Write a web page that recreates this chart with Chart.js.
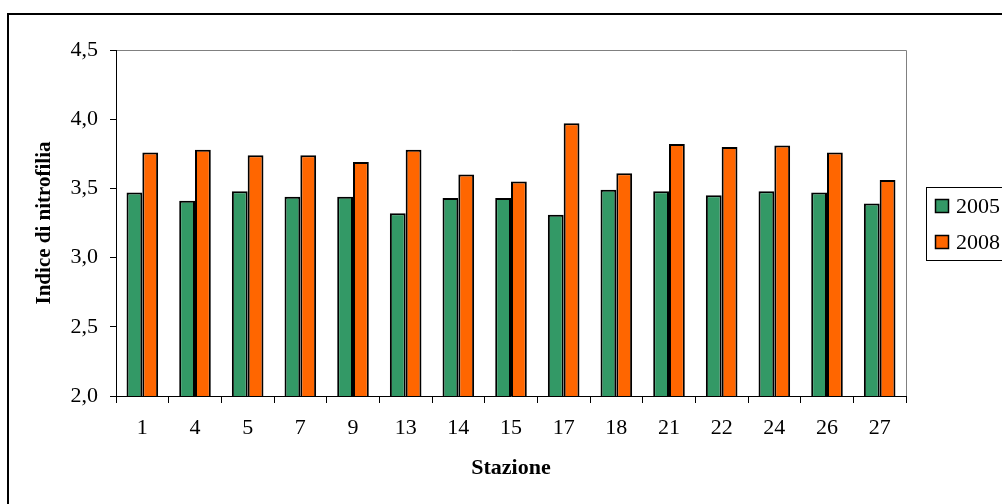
<!DOCTYPE html>
<html lang="it">
<head>
<meta charset="UTF-8">
<title>Indice di nitrofilia</title>
<script src="https://cdn.jsdelivr.net/npm/chart.js"></script>
<style>
  html, body { margin: 0; padding: 0; background: #fff; }
  #wrap { width: 1002px; height: 504px; position: relative; }
</style>
</head>
<body>
<div id="wrap"><canvas id="grafico"></canvas></div>
<script>
// dati
const stazioni = ['1', '4', '5', '7', '9', '13', '14', '15', '17', '18', '21', '22', '24', '26', '27'];
const valori2005 = [3.47, 3.41, 3.48, 3.44, 3.44, 3.32, 3.43, 3.43, 3.31, 3.49, 3.48, 3.45, 3.48, 3.47, 3.39];
const valori2008 = [3.76, 3.78, 3.74, 3.74, 3.69, 3.78, 3.60, 3.55, 3.97, 3.61, 3.82, 3.80, 3.81, 3.76, 3.56];
const etichetteY = ['2,0', '2,5', '3,0', '3,5', '4,0', '4,5'];

const FONT = '"Liberation Serif", "Times New Roman", serif';

// cornice esterna, bordo grigio dell'area del grafico e legenda
const cornice = {
  id: 'cornice',
  beforeDraw(chart) {
    const ctx = chart.ctx;
    const a = chart.chartArea;
    ctx.save();
    ctx.strokeStyle = '#000';
    ctx.lineWidth = 2;
    ctx.strokeRect(8, 14, 1100, 600);
    ctx.strokeStyle = '#808080';
    ctx.lineWidth = 1;
    ctx.beginPath();
    ctx.moveTo(a.left, a.top + 0.5);
    ctx.lineTo(a.right + 0.5, a.top + 0.5);
    ctx.lineTo(a.right + 0.5, a.bottom);
    ctx.stroke();
    ctx.restore();
  },
  afterDraw(chart) {
    const ctx = chart.ctx;
    ctx.save();
    ctx.strokeStyle = '#000';
    ctx.lineWidth = 1;
    ctx.fillStyle = '#fff';
    ctx.fillRect(926.5, 187.5, 100, 73);
    ctx.strokeRect(926.5, 187.5, 100, 73);
    ctx.font = '22px ' + FONT;
    ctx.textBaseline = 'middle';
    chart.data.datasets.forEach((ds, i) => {
      const y = 206 + i * 36;
      ctx.fillStyle = ds.backgroundColor;
      ctx.fillRect(935.5, y - 6.5, 13, 13);
      ctx.lineWidth = 1.5;
      ctx.strokeRect(935.5, y - 6.5, 13, 13);
      ctx.fillStyle = '#000';
      ctx.fillText(ds.label, 956, y + 1);
    });
    ctx.restore();
  }
};

const ctx = document.getElementById('grafico').getContext('2d');
new Chart(ctx, {
  type: 'bar',
  data: {
    labels: stazioni,
    datasets: [
      {
        label: '2005',
        data: valori2005,
        backgroundColor: '#339966',
        borderColor: '#000',
        borderWidth: 2,
        borderSkipped: false
      },
      {
        label: '2008',
        data: valori2008,
        backgroundColor: '#FF6600',
        borderColor: '#000',
        borderWidth: 2,
        borderSkipped: false
      }
    ]
  },
  options: {
    responsive: true,
    maintainAspectRatio: false,
    animation: false,
    layout: { padding: { left: 0, top: 50, right: 96, bottom: 0 } },
    datasets: { bar: { categoryPercentage: 0.6, barPercentage: 1.0 } },
    plugins: {
      legend: { display: false },
      tooltip: { enabled: false }
    },
    scales: {
      x: {
        afterFit(scale) { scale.height = 108; },
        grid: { offset: true, drawOnChartArea: false, tickLength: 7, color: '#000' },
        border: { color: '#000', width: 1 },
        ticks: { color: '#000', font: { family: FONT, size: 22 }, padding: 12, maxRotation: 0 },
        title: {
          display: true,
          text: 'Stazione',
          color: '#000',
          font: { family: FONT, size: 22, weight: 'bold' },
          padding: { top: 0, bottom: 22 }
        }
      },
      y: {
        min: 2,
        max: 4.5,
        afterFit(scale) { scale.width = 116; },
        grid: { drawOnChartArea: false, tickLength: 6, color: '#000' },
        border: { color: '#000', width: 1 },
        ticks: {
          stepSize: 0.5,
          color: '#000',
          font: { family: FONT, size: 22 },
          padding: 12,
          callback: (v, i) => etichetteY[i]
        },
        title: {
          display: true,
          text: 'Indice di nitrofilia',
          color: '#000',
          font: { family: FONT, size: 21, weight: 'bold' },
          padding: { top: 32, bottom: 0 }
        }
      }
    }
  },
  plugins: [cornice]
});
</script>
</body>
</html>
